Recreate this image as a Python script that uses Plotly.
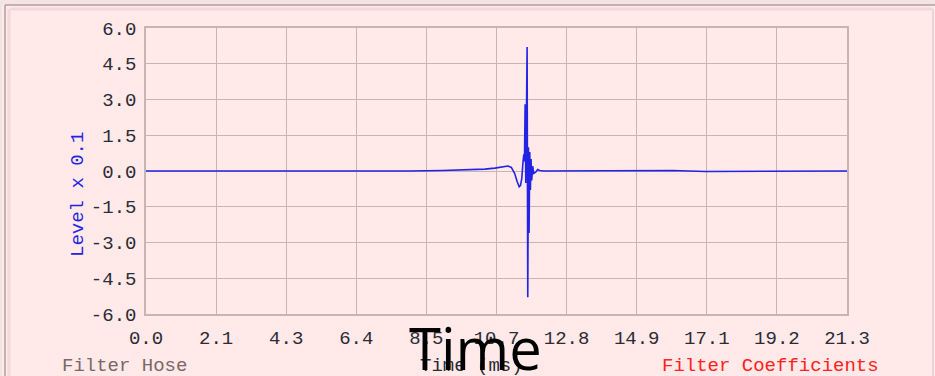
import plotly.graph_objects as go

# ---- data ----
time_ms = [0.0, 2.0, 4.0, 6.0, 8.0, 9.0, 9.8, 10.3, 10.6, 10.85, 11.0, 11.1, 11.2, 11.28,
           11.34, 11.38, 11.42, 11.45, 11.48, 11.50, 11.52, 11.54, 11.56, 11.58, 11.60,
           11.62, 11.64, 11.66, 11.68, 11.70, 11.72, 11.75, 11.78, 11.84, 11.90, 11.96,
           12.1, 13.0, 15.0, 16.0, 17.0, 19.0, 21.3]
level = [0.0, 0.0, 0.0, -0.02, 0.0, 0.02, 0.05, 0.08, 0.12, 0.18, 0.21, 0.15, -0.1, -0.45,
         -0.66, -0.6, -0.3, 0.3, 0.7, 0.4, 2.8, -0.5, 2.0, 5.2, -5.3,
         1.0, -2.6, 0.8, -0.8, 0.5, -0.4, 0.2, -0.1, -0.05, 0.06, 0.02,
         0.0, 0.0, 0.0, 0.02, -0.02, 0.0, 0.0]

x_tick_vals = [0.0, 2.13, 4.26, 6.39, 8.52, 10.65, 12.78, 14.91, 17.04, 19.17, 21.3]
x_tick_text = ["0.0", "2.1", "4.3", "6.4", "8.5", "10.7", "12.8", "14.9", "17.1", "19.2", "21.3"]
y_tick_vals = [-6.0, -4.5, -3.0, -1.5, 0.0, 1.5, 3.0, 4.5, 6.0]
y_tick_text = ["-6.0", "-4.5", "-3.0", "-1.5", "0.0", "1.5", "3.0", "4.5", "6.0"]

# ---- layout geometry (pixels) ----
W, H = 935, 376
L, R, T, B = 146, 847, 28, 314

def px(x):
    return (x - L) / (R - L)

def py(y):
    return (B - y) / (B - T)

BG = "#FFE9E9"
GRID = "#C9B4B4"
MONO = "Liberation Mono"
FS = 19

fig = go.Figure()
fig.add_trace(go.Scatter(x=time_ms, y=level, mode="lines",
                         line=dict(color="#2323E6", width=1.6),
                         hoverinfo="skip", showlegend=False))

fig.update_layout(
    width=W, height=H,
    margin=dict(l=L, r=W - R, t=T, b=H - B, pad=0),
    paper_bgcolor=BG, plot_bgcolor=BG,
    showlegend=False,
    xaxis=dict(range=[0, 21.3], tickvals=x_tick_vals, ticktext=x_tick_text,
               showgrid=True, gridcolor=GRID, gridwidth=1, zeroline=False,
               showline=True, linecolor=GRID, linewidth=1.5, mirror=True,
               ticks="", ticklabelstandoff=5,
               tickfont=dict(family=MONO, size=FS, color="#2b2b33")),
    yaxis=dict(range=[-6, 6], tickvals=y_tick_vals, ticktext=y_tick_text,
               showgrid=True, gridcolor=GRID, gridwidth=1, zeroline=False,
               showline=True, linecolor=GRID, linewidth=1.5, mirror=True,
               ticks="", ticklabelstandoff=4,
               tickfont=dict(family=MONO, size=FS, color="#2b2b33")),
)

# frame decorations
shapes = [
    dict(type="rect", xref="paper", yref="paper", x0=px(0), x1=px(W), y0=py(0), y1=py(5),
         fillcolor="#F5E4E4", line=dict(width=0), layer="below"),
    dict(type="line", xref="paper", yref="paper", x0=px(5), x1=px(W), y0=py(5), y1=py(5),
         line=dict(color="#B59C9C", width=1.5)),
    dict(type="line", xref="paper", yref="paper", x0=px(10), x1=px(933), y0=py(9), y1=py(9),
         line=dict(color="#F0DADA", width=3)),
    dict(type="line", xref="paper", yref="paper", x0=px(5), x1=px(5), y0=py(5), y1=py(H),
         line=dict(color="#B59C9C", width=1.5)),
    dict(type="line", xref="paper", yref="paper", x0=px(9), x1=px(9), y0=py(9), y1=py(H),
         line=dict(color="#F0DADA", width=3)),
    dict(type="line", xref="paper", yref="paper", x0=px(1), x1=px(1), y0=py(0), y1=py(H),
         line=dict(color="#EFE6DF", width=2)),
    dict(type="line", xref="paper", yref="paper", x0=px(933), x1=px(933), y0=py(9), y1=py(H),
         line=dict(color="#EAD6D6", width=2)),
]
fig.update_layout(shapes=shapes)

annotations = [
    dict(text="Level x 0.1", x=px(78), y=py(195), xref="paper", yref="paper",
         textangle=-90, showarrow=False, xanchor="center", yanchor="middle",
         font=dict(family=MONO, size=FS, color="#2424E0")),
    dict(text="Filter Hose", x=px(60), y=py(366), xref="paper", yref="paper",
         showarrow=False, xanchor="left", yanchor="middle",
         font=dict(family=MONO, size=FS, color="#7A6868")),
    dict(text="Time (ms)", x=px(471), y=py(366), xref="paper", yref="paper",
         showarrow=False, xanchor="center", yanchor="middle",
         font=dict(family=MONO, size=FS, color="#2b2b33")),
    dict(text="Filter Coefficients", x=px(881), y=py(366), xref="paper", yref="paper",
         showarrow=False, xanchor="right", yanchor="middle",
         font=dict(family=MONO, size=FS, color="#FF2020")),
    dict(text="Time", x=px(475), y=py(347), xref="paper", yref="paper",
         showarrow=False, xanchor="center", yanchor="middle",
         font=dict(family="Open Sans", size=58, color="#000000")),
]
fig.update_layout(annotations=annotations)

fig.write_html("out.html")
